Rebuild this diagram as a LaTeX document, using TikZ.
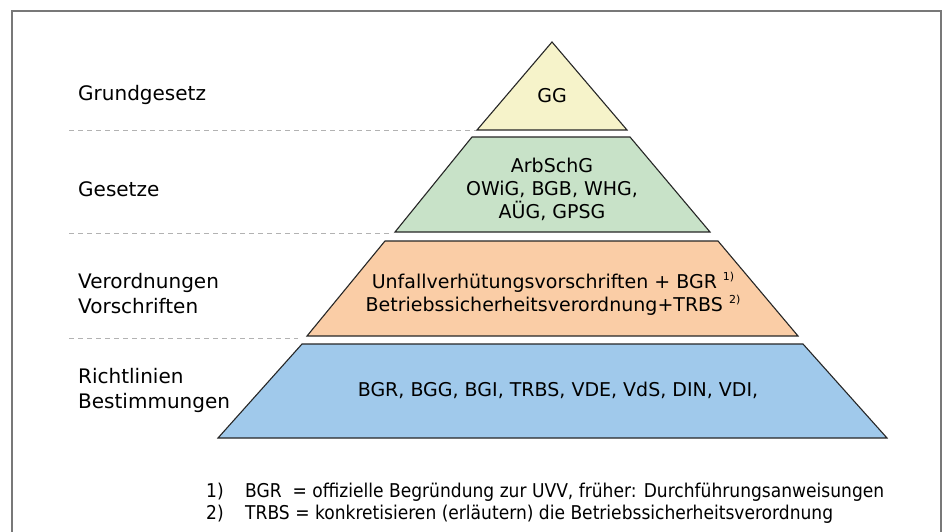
\documentclass[tikz,border=0pt]{standalone}
\usepackage{fontspec}
\setmainfont{DejaVu Sans}
\newfontfamily\narrowfont[FakeStretch=0.9]{DejaVu Sans}
\definecolor{ggfill}{RGB}{246,243,202}
\definecolor{gfill}{RGB}{200,226,200}
\definecolor{ofill}{RGB}{250,205,166}
\definecolor{bfill}{RGB}{160,201,235}
\definecolor{framegray}{RGB}{120,120,120}
\begin{document}
\begin{tikzpicture}[x=1pt,y=-1pt,
  layer/.style={draw=black!85, line width=1.1pt, line join=miter},
  sepline/.style={draw=black!30, line width=0.9pt, dash pattern=on 5pt off 4pt},
  lbl/.style={anchor=west, inner sep=0pt, align=left, font=\fontsize{20}{25}\selectfont},
  ptxt/.style={inner sep=0pt, align=center, font=\fontsize{19}{23}\selectfont},
  fn/.style={anchor=west, inner sep=0pt, font=\narrowfont\fontsize{19}{22}\selectfont}]
\useasboundingbox (0,0) rectangle (944,532);
\fill[white] (0,0) rectangle (944,532);
\draw[draw=framegray, line width=2pt] (12,545) -- (12,11) -- (941,11) -- (941,545);
% separators
\coordinate (s1a) at (69,130); \coordinate (s1b) at (476,130);
\coordinate (s2a) at (69,233); \coordinate (s2b) at (393,233);
\coordinate (s3a) at (69,338); \coordinate (s3b) at (298,338);
\draw[sepline] (s1a) -- (s1b);
\draw[sepline] (s2a) -- (s2b);
\draw[sepline] (s3a) -- (s3b);
% pyramid layers
\draw[layer, fill=ggfill] (552,42) -- (627,130) -- (477,130) -- cycle;
\draw[layer, fill=gfill] (472,137) -- (630,137) -- (710,232) -- (395,232) -- cycle;
\draw[layer, fill=ofill] (385,241) -- (718,241) -- (798,336) -- (307,336) -- cycle;
\draw[layer, fill=bfill] (302,344) -- (803,344) -- (887,438) -- (218,438) -- cycle;
% pyramid texts
\node[ptxt] (gg) at (552,96) {GG};
\node[ptxt] (gesetze) at (552,189) {ArbSchG\\OWiG, BGB, WHG,\\AÜG, GPSG};
\node[ptxt] (vo) at (553,294) {Unfallverhütungsvorschriften + BGR \raisebox{0.45em}{\fontsize{11}{11}\selectfont 1)}\\Betriebssicherheitsverordnung+TRBS \raisebox{0.45em}{\fontsize{11}{11}\selectfont 2)}};
\node[ptxt] (rl) at (558,390) {BGR, BGG, BGI, TRBS, VDE, VdS, DIN, VDI,};
% left labels
\node[lbl] (l1) at (78,95) {Grundgesetz};
\node[lbl] (l2) at (78,189) {Gesetze};
\node[lbl] (l3) at (78,294) {Verordnungen\\Vorschriften};
\node[lbl] (l4) at (78,390) {Richtlinien\\Bestimmungen};
% footnotes
\node[fn] (f1n) at (206,492) {1)};
\node[fn] (f1t) at (245,492) {BGR\ \ = offizielle Begründung zur UVV, früher: Durchführungsanweisungen};
\node[fn] (f2n) at (206,514) {2)};
\node[fn] (f2t) at (245,514) {TRBS = konkretisieren (erläutern) die Betriebssicherheitsverordnung};
\end{tikzpicture}
\end{document}
